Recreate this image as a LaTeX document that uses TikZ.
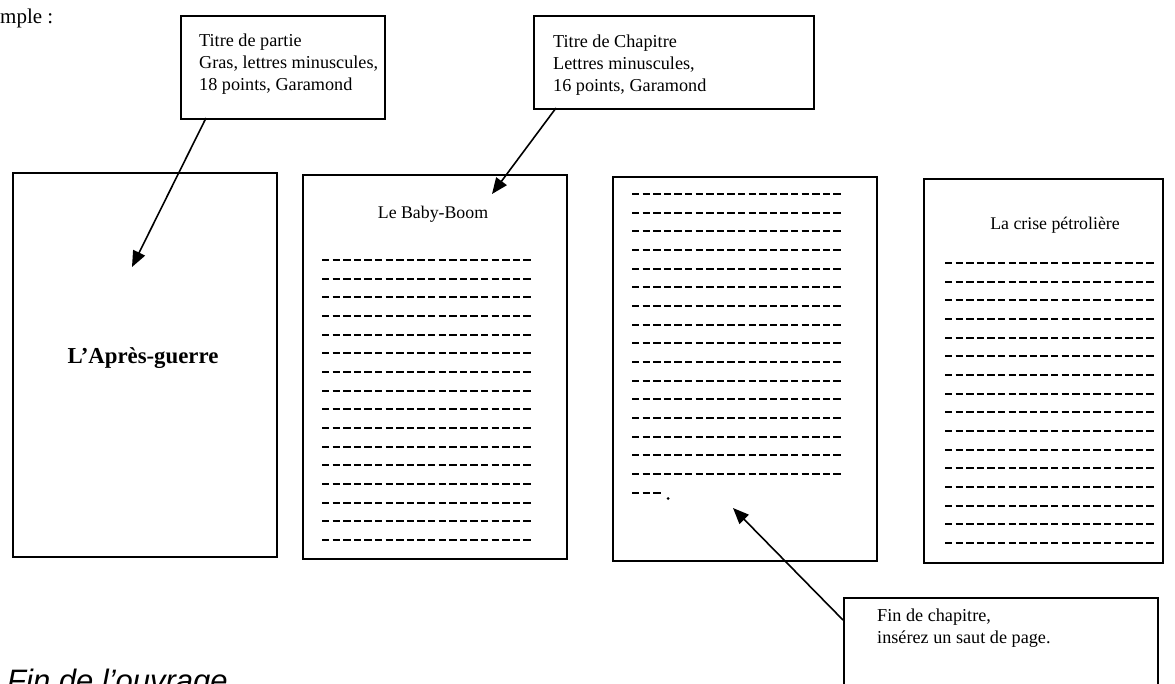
\documentclass[tikz,border=0pt]{standalone}
\usepackage{fontspec}
\setmainfont{Liberation Serif}
\newfontfamily\arialfont{Liberation Sans}
\usetikzlibrary{arrows.meta}
\begin{document}
\begin{tikzpicture}[x=1pt,y=-1pt,
  page/.style={draw,line width=2pt,inner sep=0pt,anchor=north west},
  callout/.style={draw,line width=1.6pt,fill=white,inner sep=0pt,anchor=north west},
  filler/.style={line width=2.8pt,dash pattern=on 7.3pt off 3.3pt},
  pointer/.style={line width=1.6pt,-{Triangle[length=16pt,width=13pt]}},
  lbl/.style={font=\fontsize{18.2}{21.6}\selectfont,align=left,anchor=north west,inner sep=0pt},
  ptitle/.style={font=\fontsize{17.8}{20}\selectfont,inner sep=0pt}
]
\useasboundingbox (0,0) rectangle (1175,683);
\clip (0,0) rectangle (1175,683);

% top-left text
\node[font=\fontsize{21}{24}\selectfont,anchor=base west,inner sep=0pt] (ex) at (0,23) {mple :};

% pages
\node[page,minimum width=264pt,minimum height=384pt] (p1) at (12,172) {};
\node[page,minimum width=264pt,minimum height=384pt] (p2) at (302,174) {};
\node[page,minimum width=264pt,minimum height=384pt] (p3) at (612,176) {};
\node[page,minimum width=239pt,minimum height=384pt] (p4) at (923,178) {};

\node[font=\fontsize{22.8}{26}\selectfont\bfseries,inner sep=0pt] (t1) at (143,358) {L’Après-guerre};
\node[ptitle] (t2) at (433,214) {Le Baby-Boom};
\node[ptitle] (t4) at (1055,225) {La crise pétrolière};

% filler lines
\foreach \i in {0,...,15} {
  \pgfmathsetmacro{\ya}{round(260+18.67*\i)}
  \pgfmathsetmacro{\yb}{round(194+18.67*\i)}
  \pgfmathsetmacro{\yc}{round(263+18.67*\i)}
  \draw[filler] (322,\ya) -- ++(209,0);
  \draw[filler] (632,\yb) -- ++(209,0);
  \draw[filler] (945,\yc) -- ++(209,0);
}
\draw[filler] (632,493) -- ++(28.5,0);
\fill (668,498.5) circle (1.5pt);

% callouts
\node[callout,minimum width=204pt,minimum height=103pt] (b1) at (180,15) {};
\node[lbl] (b1t) at (199,34) {Titre de partie\\Gras, lettres minuscules,\\18 points, Garamond};
\node[callout,minimum width=280pt,minimum height=93pt] (b2) at (533,15) {};
\node[lbl] (b2t) at (553,35) {Titre de Chapitre\\Lettres minuscules,\\16 points, Garamond};
\node[callout,minimum width=314pt,minimum height=110pt] (b3) at (843,597) {};
\node[lbl] (b3t) at (877,609) {Fin de chapitre,\\insérez un saut de page.};

% arrows
\coordinate (a1s) at (206,118);
\coordinate (a1e) at (132,267);
\coordinate (a2s) at (556,108);
\coordinate (a2e) at (492,194);
\coordinate (a3s) at (843,620);
\coordinate (a3e) at (733,508);
\draw[pointer] (a1s) -- (a1e);
\draw[pointer] (a2s) -- (a2e);
\draw[pointer] (a3s) -- (a3e);

% bottom text
\node[font=\arialfont\itshape\fontsize{31}{36}\selectfont,anchor=base west,inner sep=0pt] (fin) at (7,691) {Fin de l’ouvrage};
\end{tikzpicture}
\end{document}
